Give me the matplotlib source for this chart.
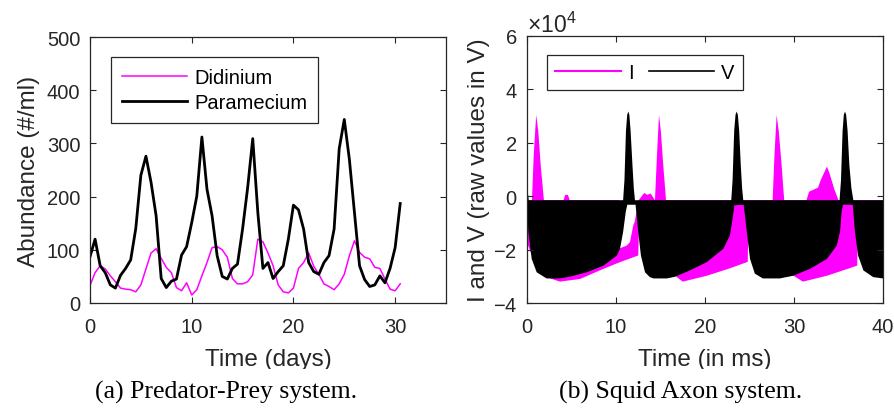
import numpy as np
import matplotlib
matplotlib.use("Agg")
import matplotlib.pyplot as plt
from matplotlib.lines import Line2D
from matplotlib.patches import Rectangle

plt.rcParams['font.family'] = ['Liberation Sans', 'DejaVu Sans']
plt.rcParams['axes.unicode_minus'] = False
plt.rcParams['mathtext.fontset'] = 'custom'
plt.rcParams['mathtext.rm'] = 'Liberation Sans'
plt.rcParams['mathtext.it'] = 'Liberation Sans'

# ---------------- Predator-prey data (days, #/ml) ----------------
days = np.arange(0, 31, 0.5)
paramecium = [87, 120, 70, 57, 34, 28, 52, 65, 81, 140, 240, 276, 227, 164, 46, 29,
              41, 45, 90, 106, 151, 201, 312, 214, 164, 89, 50, 45, 65, 73, 139, 217,
              309, 170, 65, 76, 46, 59, 70, 120, 184, 175, 139, 76, 59, 54, 76, 89,
              139, 290, 345, 270, 170, 70, 44, 31, 34, 51, 38, 65, 104, 187]
didinium = [33, 57, 70, 64, 51, 40, 28, 26, 25, 21, 34, 64, 94, 102, 84, 67,
            57, 29, 23, 38, 15, 25, 51, 76, 104, 106, 100, 86, 46, 36, 36, 40,
            53, 120, 115, 94, 70, 34, 21, 19, 28, 65, 76, 94, 69, 54, 36, 31,
            25, 36, 54, 89, 117, 95, 86, 83, 67, 65, 45, 26, 23, 36]

# ---------------- Squid axon envelopes (ms, units of 1e4) ----------------
v_up_t = [0, 0.2, 10.8, 10.95, 11.12, 11.26, 11.38, 11.5, 11.64, 11.85, 12.0, 12.13,
          22.95, 23.1, 23.28, 23.43, 23.56, 23.69, 23.84, 24.02, 24.17, 24.3,
          35.12, 35.28, 35.46, 35.6, 35.73, 35.86, 36.02, 36.22, 36.45, 36.67, 40]
v_up = [0.4, -0.15, -0.15, 0.6, 2.45, 3.05, 3.17, 3.05, 2.45, 1.16, 0.3, -0.15,
        -0.15, 0.6, 2.45, 3.05, 3.17, 3.05, 2.45, 1.16, 0.3, -0.15,
        -0.15, 0.6, 2.45, 3.05, 3.17, 3.05, 2.45, 1.16, 0.3, -0.15, -0.15]
v_low_t = [0, 0.15, 0.53, 1.09, 2.2, 3.7, 5.0, 6.7, 8.6, 10.1, 10.45, 10.8, 11.1, 11.27,
           12.2, 12.5, 12.8, 13.26, 13.8, 14.2, 15.7, 16.6, 18.3, 20.2, 22.06, 22.8,
           23.1, 23.3, 24.35, 24.7, 25.06, 25.6, 26.5, 28.4, 29.9, 31.8, 33.7, 34.8,
           35.17, 35.35, 35.5, 36.6, 36.85, 37.2, 37.8, 38.9, 40]
v_low = [-0.2, -1.34, -2.35, -2.85, -3.08, -3.08, -3.0, -2.85, -2.6, -2.22, -1.97, -1.34,
         -0.58, -0.32, -0.32, -1.34, -2.22, -2.85, -3.03, -3.08, -3.08, -3.02, -2.78,
         -2.47, -1.97, -1.47, -0.84, -0.34, -0.32, -1.34, -2.35, -2.9, -3.08, -3.08,
         -2.98, -2.72, -2.35, -1.85, -1.34, -0.59, -0.32, -0.32, -1.34, -2.22, -2.78,
         -3.03, -3.08]

i_up_t = [0, 0.56, 0.75, 1.03, 1.27, 1.54, 1.9, 4.1, 4.3, 4.6, 4.8, 10.35, 10.45,
          11.2, 11.57, 11.94, 12.1, 12.55, 13.0, 13.2, 13.5, 13.9, 14.38, 14.6, 14.83,
          15.05, 15.3, 15.62, 27.6, 27.8, 28.05, 28.3, 28.6, 28.9, 31.4, 31.7, 32.7,
          33.0, 33.7, 34.0, 34.5, 35.0, 40]
i_up = [-0.15, -0.15, 1.5, 3.04, 2.43, 1.16, -0.15, -0.15, 0.05, 0.05, -0.15, -0.15, -1.95,
        -1.85, -1.72, -1.09, -0.96, -0.15, 0.05, 0.12, 0.05, 0.1, -0.15, 1.5, 3.04,
        2.4, 1.2, -0.15, -0.15, 1.5, 3.04, 2.4, 1.2, -0.15, -0.15, 0.17, 0.32,
        0.6, 1.11, 0.85, 0.29, -0.15, -0.15]
i_low_t = [0, 0.3, 1.0, 2.0, 2.96, 3.7, 5.96, 8.6, 10.45, 12.5, 12.6, 13.3, 14.5, 16.0,
           16.6, 17.5, 20.2, 22.8, 24.8, 24.9, 25.5, 26.5, 28.0, 29.9, 31.0, 33.7, 37.1,
           37.2, 38.0, 40]
i_low = [-1.75, -2.0, -2.6, -3.0, -3.12, -3.2, -3.1, -2.72, -2.47, -2.22, -1.0, -2.0,
         -2.6, -2.9, -2.97, -3.2, -2.98, -2.7, -2.46, -0.8, -1.8, -2.6, -2.9, -2.97,
         -3.2, -2.98, -2.6, -0.8, -1.8, -2.5]
scale = 1e4

# ---------------- figure ----------------
fig = plt.figure(figsize=(8.95, 4.1), dpi=100)
W, H = 895, 410
ax1 = fig.add_axes([90 / W, (H - 304) / H, 356 / W, 266 / H])
ax2 = fig.add_axes([527 / W, (H - 304) / H, 356 / W, 267 / H])

dark = '#262626'
TICK = 14.5
LAB = 17.5

for ax in (ax1, ax2):
    ax.tick_params(direction='in', top=True, right=True, length=4.5, width=0.8,
                   colors=dark, labelsize=TICK, pad=7)
    ax.tick_params(axis='x', pad=10)
    for s in ax.spines.values():
        s.set_color(dark)
        s.set_linewidth(0.9)

ax1.plot(days, didinium, color='#ff00ff', lw=1.1, label='Didinium')
ax1.plot(days, paramecium, color='black', lw=2.0, label='Paramecium')
ax1.set_xlim(0, 35)
ax1.set_ylim(0, 500)
ax1.set_xticks([0, 10, 20, 30])
ax1.set_yticks([0, 100, 200, 300, 400, 500])
ax1.set_xlabel('Time (days)', fontsize=LAB, color=dark, labelpad=9)
ax1.set_ylabel('Abundance (#/ml)', fontsize=LAB, color=dark, labelpad=5)
leg1 = ax1.legend(loc='upper left', bbox_to_anchor=(0.058, 0.925), fontsize=TICK,
                  handlelength=3.25, handletextpad=0.35, borderpad=0.55,
                  labelspacing=0.3, fancybox=False, framealpha=1,
                  edgecolor=dark, borderaxespad=0)
leg1.get_frame().set_linewidth(0.9)

# squid axon
ax2.fill(np.concatenate([i_up_t, i_low_t[::-1]]),
         np.concatenate([np.array(i_up), np.array(i_low)[::-1]]) * scale,
         color='#ff00ff', lw=0)
ax2.fill(np.concatenate([v_up_t, v_low_t[::-1]]),
         np.concatenate([np.array(v_up), np.array(v_low)[::-1]]) * scale,
         color='black', lw=0)
ax2.set_xlim(0, 40)
ax2.set_ylim(-4 * scale, 6 * scale)
ax2.set_xticks([0, 10, 20, 30, 40])
ax2.set_yticks(np.arange(-4, 7, 2) * scale)
ax2.ticklabel_format(style='sci', axis='y', scilimits=(0, 0), useMathText=True)
ax2.yaxis.get_offset_text().set_fontsize(16.5)
ax2.yaxis.get_offset_text().set_color(dark)
ax2.set_xlabel('Time (in ms)', fontsize=LAB, color=dark, labelpad=9)
ax2.set_ylabel('I and V (raw values in V)', fontsize=LAB, color=dark, labelpad=2)
handles = [Line2D([], [], color='#ff00ff', lw=1.5), Line2D([], [], color='black', lw=1.2)]
leg2 = ax2.legend(handles, ['I', 'V'], ncol=2, loc='upper left',
                  bbox_to_anchor=(0.057, 0.93), fontsize=TICK, handlelength=3.25,
                  handletextpad=0.35, columnspacing=0.75, borderpad=0.4,
                  fancybox=False, framealpha=1, edgecolor=dark, borderaxespad=0)
leg2.get_frame().set_linewidth(0.9)

# white band clipping the descenders of axis titles, then captions
fig.add_artist(Rectangle((0, 0), 1, 40 / H, transform=fig.transFigure,
                         facecolor='white', edgecolor='none', zorder=2))
fig.text(226 / W, (H - 399) / H, '(a) Predator-Prey system.', ha='center', va='baseline',
         fontsize=18.5, family='Liberation Serif', zorder=3)
fig.text(681 / W, (H - 399) / H, '(b) Squid Axon system.', ha='center', va='baseline',
         fontsize=18.5, family='Liberation Serif', zorder=3)

fig.savefig('out.png', dpi=100)
